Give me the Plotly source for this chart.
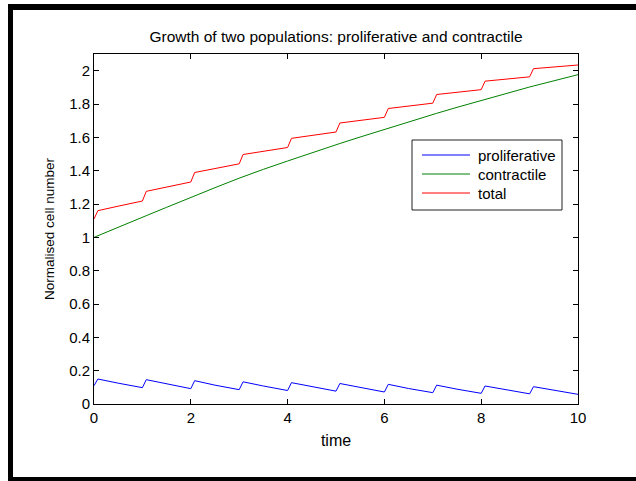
import plotly.graph_objects as go

# Sample times (jumps just after each integer time)
time = [0.0, 0.08, 0.5,
        1.0, 1.08, 1.5,
        2.0, 2.08, 2.5,
        3.0, 3.08, 3.5,
        4.0, 4.08, 4.5,
        5.0, 5.08, 5.5,
        6.0, 6.08, 6.5,
        7.0, 7.08, 7.5,
        8.0, 8.08, 8.5,
        9.0, 9.08, 9.5,
        10.0]

proliferative = [0.110, 0.150, 0.125,
                 0.098, 0.146, 0.120,
                 0.092, 0.140, 0.113,
                 0.086, 0.133, 0.108,
                 0.081, 0.128, 0.103,
                 0.077, 0.123, 0.098,
                 0.072, 0.118, 0.093,
                 0.068, 0.113, 0.089,
                 0.064, 0.108, 0.085,
                 0.061, 0.104, 0.081,
                 0.058]

contractile = [1.000, 1.010, 1.062,
               1.120, 1.130, 1.180,
               1.240, 1.249, 1.298,
               1.355, 1.364, 1.408,
               1.458, 1.466, 1.508,
               1.555, 1.563, 1.602,
               1.648, 1.655, 1.693,
               1.737, 1.744, 1.780,
               1.822, 1.829, 1.863,
               1.902, 1.908, 1.940,
               1.976]

total = [p + c for p, c in zip(proliferative, contractile)]

series_names = ["proliferative", "contractile", "total"]
series_colors = ["#0000ff", "#008000", "#ff0000"]

y_ticks = [0, 0.2, 0.4, 0.6, 0.8, 1, 1.2, 1.4, 1.6, 1.8, 2]
x_ticks = [0, 2, 4, 6, 8, 10]

W, H = 636, 481
L, R, T, B = 94, 578, 54, 404   # plot area in pixels

def px(x):
    return (x - L) / (R - L)

def py(y):
    return (B - y) / (B - T)

FONT = "Liberation Sans, Arial, sans-serif"

fig = go.Figure()
for name, color, values in zip(series_names, series_colors,
                               [proliferative, contractile, total]):
    fig.add_trace(go.Scatter(x=time, y=values, name=name, mode="lines",
                             line=dict(color=color, width=1), showlegend=False))

axis_common = dict(showline=True, linecolor="black", linewidth=1, mirror="allticks",
                   ticks="inside", ticklen=5, tickcolor="black", showgrid=False,
                   zeroline=False, tickfont=dict(family=FONT, size=15, color="black"))

fig.update_xaxes(range=[0, 10], tickvals=x_ticks,
                 title=dict(text="time", font=dict(family=FONT, size=16, color="black"),
                            standoff=9),
                 **axis_common)
fig.update_yaxes(range=[0, 2.1], tickvals=y_ticks,
                 title=dict(text="Normalised cell number",
                            font=dict(family=FONT, size=13.5, color="black"), standoff=11),
                 **axis_common)

# Black frame around the figure
frame = [
    (8, 4, 636, 10),
    (8, 4, 13, 481),
    (8, 477, 636, 481),
]
shapes = [dict(type="rect", xref="paper", yref="paper",
               x0=px(x0), x1=px(x1), y0=py(y1), y1=py(y0),
               fillcolor="black", line=dict(width=0), layer="above")
          for x0, y0, x1, y1 in frame]

# Legend box with line samples and labels
box_l, box_t, box_r, box_b = 412, 140, 562, 210
shapes.append(dict(type="rect", xref="paper", yref="paper",
                   x0=px(box_l), x1=px(box_r), y0=py(box_b), y1=py(box_t),
                   fillcolor="white", line=dict(color="#222222", width=1),
                   layer="above"))
annotations = []
row_y = [155, 174, 193]
for name, color, ry in zip(series_names, series_colors, row_y):
    shapes.append(dict(type="line", xref="paper", yref="paper",
                       x0=px(422), x1=px(470), y0=py(ry), y1=py(ry),
                       line=dict(color=color, width=1), layer="above"))
    annotations.append(dict(text=name, xref="paper", yref="paper",
                            x=px(476), y=py(ry), xanchor="left", yanchor="middle",
                            showarrow=False,
                            font=dict(family=FONT, size=15, color="black")))

fig.update_layout(
    width=W, height=H,
    margin=dict(l=L, r=W - R, t=T, b=H - B, pad=0),
    paper_bgcolor="white", plot_bgcolor="white",
    title=dict(text="Growth of two populations: proliferative and contractile",
               x=0.5, xref="paper", y=1 - 37 / H, yanchor="middle",
               font=dict(family=FONT, size=15.5, color="black")),
    showlegend=False,
    shapes=shapes,
    annotations=annotations,
)

fig.write_html("out.html")
